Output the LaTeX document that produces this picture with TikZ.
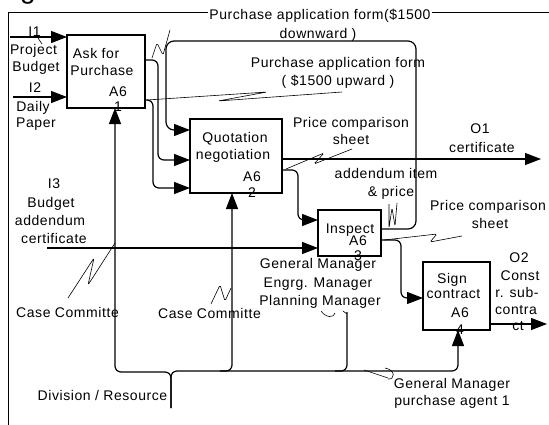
\documentclass[tikz,border=0pt]{standalone}
\usepackage{fontspec}
\newfontfamily\lf{Liberation Sans}[LetterSpace=4]
\newcommand\lblfont{\lf\fontsize{14}{17}\selectfont}
\usetikzlibrary{arrows.meta}
\begin{document}
\begin{tikzpicture}[x=1pt,y=-1pt,
  lbl/.style={font=\lblfont, inner sep=0pt, anchor=base},
  procbox/.style={draw, line width=1.4pt, inner sep=0pt, outer sep=0pt},
  flow/.style={line width=1.2pt, rounded corners=6pt},
  arr/.style={flow, -{Triangle[length=16pt,width=12pt]}},
  lead/.style={line width=0.6pt, rounded corners=1.5pt}]
\useasboundingbox (0,0) rectangle (549,424);
% frame
\draw[line width=0.9pt] (560,12) -- (8,12) -- (8,440);
\node[lbl, font=\lf\fontsize{28}{28}\selectfont] (g) at (28,-2) {g};
% boxes
\node[procbox, minimum width=78pt, minimum height=73pt] (a1) at (106,71.5) {};
\node[procbox, minimum width=92pt, minimum height=74pt] (a2) at (236,156) {};
\node[procbox, minimum width=63pt, minimum height=46pt] (a3) at (349.5,233) {};
\node[procbox, minimum width=67pt, minimum height=68pt] (a4) at (456.5,296) {};
\draw[line width=2.6pt] (a3.north east) -- (a3.east |- 0,241);
% inputs
\coordinate (i1) at (10,37);
\coordinate (i2) at (13,97);
\coordinate (i3) at (47,248);
\draw[arr] (i1) -- (a1.west |- i1);
\draw[arr] (i2) -- (a1.west |- i2);
\draw[arr] (i3) -- (a3.west |- i3);
% A61 -> A62
\draw[arr] (a1.east |- 0,60) -- (158,60) -- (158,160) -- (a2.west |- 0,160);
\draw[arr] (a1.east |- 0,100) -- (153,100) -- (153,188) -- (a2.west |- 0,188);
% feedback loop A63 -> A62
\draw[arr, rounded corners=8pt] (a3.east |- 0,229) -- (416,229) -- (416,41) -- (166,41) -- (166,130) -- (a2.west |- 0,130);
% outputs
\coordinate (o1) at (541,159);
\draw[arr] (a2.east |- o1) -- (o1);
\draw[arr] (a2.east |- 0,170) -- (298,170) -- (298,220) -- (a3.west |- 0,220);
\draw[arr] (a3.east |- 0,240) -- (401,240) -- (401,298) -- (a4.west |- 0,298);
\coordinate (o2) at (547,324);
\draw[arr] (a4.east |- o2) -- (o2);
% mechanisms
\coordinate (dr) at (171,408);
\draw[arr] (dr) -- (171,372) -- (115,372) -- (115,0 |- a1.south);
\draw[arr] (dr) -- (171,371) -- (458,371) -- (458,0 |- a4.south);
\draw[arr] (220,371) -- (232,371) -- (232,0 |- a2.south);
\draw[flow] (335,371) -- (347,371) -- (347,312);
% leaders
\draw[lead] (38,38) -- (42,44);
\draw[lead] (152,58) -- (157,43) -- (163,55) -- (170,30);
\draw[lead] (147,100) -- (267,92) -- (218,101) -- (342,92);
\draw[lead] (286,169) -- (324,153) -- (314,164) -- (352,149);
\draw[lead] (389,204) -- (389,228) -- (392,208) -- (395,226) -- (397,203);
\draw[lead] (384,240) -- (437,234) -- (430,242) -- (462,236);
\draw[lead] (115,243) -- (88,285) -- (94,258) -- (68,298);
\draw[lead] (211,304) -- (220,285) -- (225,301) -- (231,288);
\draw[lead] (321,311) .. controls (326,318) and (334,318) .. (335,313);
\draw[lead] (343,311) -- (347,314);
\draw[lead] (364,370) -- (388,378);
\draw[lead] (385,368) .. controls (396,370) and (395,380) .. (388,379);
% box texts
\node[lbl] (t1) at (96,58) {Ask for};
\node[lbl] (t2) at (102,75.5) {Purchase};
\node[lbl] (t3) at (118,96) {A6};
\node[lbl] (t4) at (118,111) {1};
\node[lbl] (t5) at (235,142) {Quotation};
\node[lbl] (t6) at (233,159) {negotiation};
\node[lbl] (t7) at (252,181.5) {A6};
\node[lbl] (t8) at (252,197) {2};
\node[lbl] (t9) at (350,233) {Inspect};
\node[lbl] (t10) at (358,245) {A6};
\node[lbl] (t11) at (358,260) {3};
\node[lbl] (t12) at (452,283) {Sign};
\node[lbl] (t13) at (453.5,298.5) {contract};
\node[lbl] (t14) at (460,317) {A6};
\node[lbl] (t15) at (460,334) {4};
% input labels
\node[lbl] (l1) at (34.5,36) {I1};
\node[lbl] (l2) at (33.5,54) {Project};
\node[lbl] (l3) at (36,71) {Budget};
\node[lbl] (l4) at (35,92) {I2};
\node[lbl] (l5) at (33,111.5) {Daily};
\node[lbl] (l6) at (36,127.5) {Paper};
\node[lbl] (l7) at (54,188) {I3};
\node[lbl] (l8) at (51,207) {Budget};
\node[lbl] (l9) at (50,225) {addendum};
\node[lbl] (l10) at (54,243) {certificate};
% arrow labels
\node[lbl, fill=white, inner sep=1pt] (m1) at (320,19) {Purchase application form(\$1500};
\node[lbl] (m2) at (318,38) {downward )};
\node[lbl] (m3) at (338,67) {Purchase application form};
\node[lbl] (m4) at (338,85) {( \$1500 upward )};
\node[lbl] (m5) at (351,127) {Price comparison};
\node[lbl] (m6) at (351,144) {sheet};
\node[lbl] (m7) at (480,133) {O1};
\node[lbl] (m8) at (482,152) {certificate};
\node[lbl] (m9) at (386,178) {addendum item};
\node[lbl] (m10) at (391,196) {\& price};
\node[lbl] (m11) at (488,210) {Price comparison};
\node[lbl] (m12) at (490,228) {sheet};
\node[lbl] (m13) at (519,262) {O2};
\node[lbl] (m14) at (520,280) {Const};
\node[lbl] (m15) at (517,297) {r. sub-};
\node[lbl] (m16) at (516,314) {contra};
\node[lbl] (m17) at (518,330) {ct};
% mechanism labels
\node[lbl] (n1) at (318,268) {General Manager};
\node[lbl] (n2) at (318,287) {Engrg. Manager};
\node[lbl] (n3) at (320,305) {Planning Manager};
\node[lbl] (n4) at (67.5,317) {Case Committe};
\node[lbl] (n5) at (209.5,318) {Case Committe};
\node[lbl] (n6) at (102.5,400) {Division / Resource};
\node[lbl] (n7) at (452,388) {General Manager};
\node[lbl] (n8) at (452,405) {purchase agent 1};
\end{tikzpicture}
\end{document}
